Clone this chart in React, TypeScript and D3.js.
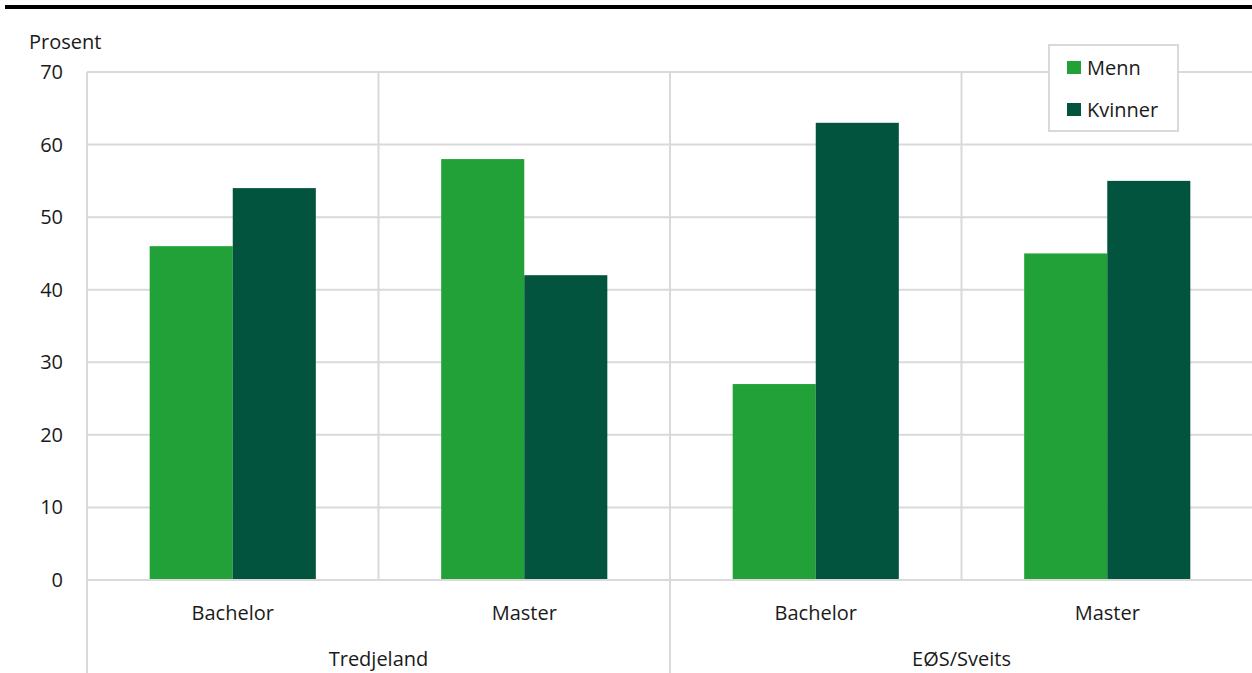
import React from "react";
import * as d3 from "d3";

const groups = ["Tredjeland", "EØS/Sveits"];
const levels = ["Bachelor", "Master"];
const categories = ["Tredjeland|Bachelor", "Tredjeland|Master", "EØS/Sveits|Bachelor", "EØS/Sveits|Master"];
const series = ["Menn", "Kvinner"];
const menn = [46, 58, 27, 45];
const kvinner = [54, 42, 63, 55];
const yTicks = [0, 10, 20, 30, 40, 50, 60, 70];
const colors = ["#21A138", "#02543F"];

const W = 1252, H = 673;
const left = 87, right = 1253, top = 72, bottom = 580;
const font = "'Open Sans', 'Noto Sans', sans-serif";
const grid = "#D9D9D9";
const fs = 20;

export default function App() {
  const x = d3.scaleBand().domain(categories).range([left, right]).paddingInner(0).paddingOuter(0);
  const inner = d3.scaleBand().domain(series).range([0, x.bandwidth()]).paddingInner(0).paddingOuter(0.7545);
  const y = d3.scaleLinear().domain([0, 70]).range([bottom, top]);
  const values = [menn, kvinner];
  const gx = d3.scaleBand().domain(groups).range([left, right]);

  return (
    <svg width={W} height={H} style={{ position: "absolute", left: 0, top: 0, background: "#fff" }}>
      <rect x={5} y={5} width={1247} height={4} fill="#000" />
      <text x={29} y={49} fontFamily={font} fontSize={fs} fill="#1a1a1a">Prosent</text>
      {yTicks.map((t) => (
        <g key={t}>
          <line x1={left} x2={right} y1={y(t)} y2={y(t)} stroke={grid} strokeWidth={2} />
          <text x={63} y={y(t)} dy="0.35em" textAnchor="end" fontFamily={font} fontSize={fs} fill="#1a1a1a">{t}</text>
        </g>
      ))}
      {categories.map((c, i) => (
        <line key={c} x1={x(c)!} x2={x(c)!} y1={top} y2={i % 2 === 0 ? H : bottom} stroke={grid} strokeWidth={2} />
      ))}
      {categories.map((c, i) =>
        series.map((s, j) => (
          <rect key={c + s} x={x(c)! + inner(s)!} y={y(values[j][i])} width={inner.bandwidth()} height={y(0) - y(values[j][i])} fill={colors[j]} />
        ))
      )}
      <line x1={left} x2={right} y1={bottom} y2={bottom} stroke={grid} strokeWidth={2} />
      {categories.map((c, i) => (
        <text key={c + "l"} x={x(c)! + x.bandwidth() / 2} y={613} dy="0.35em" textAnchor="middle" fontFamily={font} fontSize={fs} fill="#1a1a1a">{levels[i % 2]}</text>
      ))}
      {groups.map((g) => (
        <text key={g} x={gx(g)! + gx.bandwidth() / 2} y={659} dy="0.35em" textAnchor="middle" fontFamily={font} fontSize={fs} fill="#1a1a1a">{g}</text>
      ))}
      <rect x={1049} y={45} width={129} height={86} fill="#fff" stroke={grid} strokeWidth={2} />
      {series.map((s, j) => (
        <g key={s}>
          <rect x={1067} y={61 + j * 42} width={14} height={13} fill={colors[j]} />
          <text x={1087} y={67.5 + j * 42} dy="0.35em" fontFamily={font} fontSize={fs} fill="#1a1a1a">{s}</text>
        </g>
      ))}
    </svg>
  );
}
